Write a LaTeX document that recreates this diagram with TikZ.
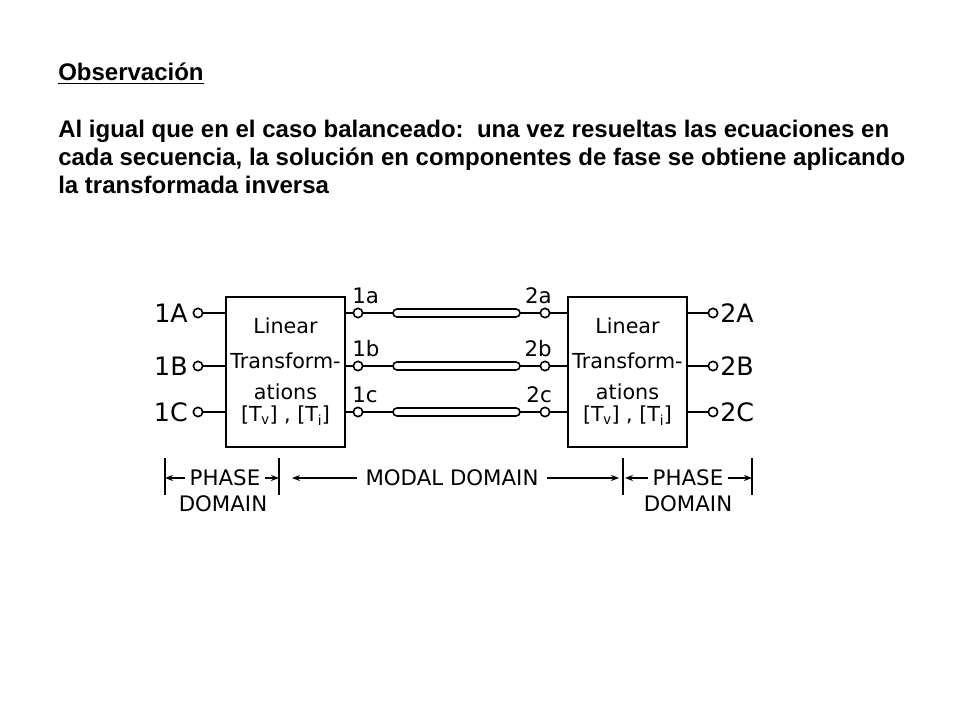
\documentclass[tikz,border=0pt]{standalone}
\usepackage{fontspec}
\setmainfont{Liberation Sans}
\newfontfamily\diag{DejaVu Sans}
\usetikzlibrary{arrows.meta}
\begin{document}
\begin{tikzpicture}[x=0.75pt,y=-0.75pt,
  box/.style={draw,line width=1.2pt},
  wire/.style={line width=1.2pt},
  term/.style={circle,draw,line width=1.2pt,inner sep=0pt,minimum size=7pt,fill=white},
  lab/.style={font=\diag\fontsize{16}{18}\selectfont,inner sep=0pt},
  tube/.style={draw,line width=1.2pt,rounded corners=3pt},
  dom/.style={line width=1pt,-{Stealth[length=6pt]}},
  txt/.style={font=\bfseries\fontsize{18}{21}\selectfont,anchor=north west,inner sep=0pt,align=left}]
\useasboundingbox (0,0) rectangle (960,720);
\node[txt] (obs) at (58,63) {\underline{Observación}};
\node[txt] (par) at (58,120) {Al igual que en el caso balanceado:\ \ una vez resueltas las ecuaciones en\\cada secuencia, la solución en componentes de fase se obtiene aplicando\\la transformada inversa};
% boxes
\draw[box] (226,297) rectangle (345,447);
\draw[box] (568,297) rectangle (687,447);
\node[lab,align=center,font=\diag\fontsize{15.5}{17}\selectfont] (lt) at (285.5,372) {Linear\\[9pt]Transform-\\[6pt]ations\\{}[T$_\mathrm{v}$] , [T$_\mathrm{i}$]};
\node[lab,align=center,font=\diag\fontsize{15.5}{17}\selectfont] (rt) at (627.5,372) {Linear\\[9pt]Transform-\\[6pt]ations\\{}[T$_\mathrm{v}$] , [T$_\mathrm{i}$]};
\foreach \y/\L/\l/\R/\r in {313/1A/1a/2A/2a,366/1B/1b/2B/2b,412/1C/1c/2C/2c}{
  \node[lab,anchor=east,font=\diag\fontsize{19}{20}\selectfont] (L\L) at (188,\y) {\L};
  \node[term] (tl\L) at (198,\y) {};
  \draw[wire] (tl\L) -- (226,\y);
  \node[term] (tm\l) at (358,\y) {};
  \draw[wire] (345,\y) -- (tm\l) -- (393,\y);
  \draw[tube] (393,\y-4) rectangle (520,\y+4);
  \node[term] (tn\r) at (545,\y) {};
  \draw[wire] (520,\y) -- (tn\r) -- (568,\y);
  \node[term] (tr\R) at (713,\y) {};
  \draw[wire] (687,\y) -- (tr\R);
  \node[lab,anchor=west,font=\diag\fontsize{19}{20}\selectfont] (R\R) at (720,\y) {\R};
  \node[lab,anchor=south west] (m\l) at (352,\y-9) {\l};
  \node[lab,anchor=south east] (n\r) at (552,\y-9) {\r};
}
% domains
\foreach \x in {165,279,623,752} \draw[line width=1pt] (\x,458) -- (\x,495);
\node[lab] (p1) at (225,478) {PHASE};
\node[lab] (d1) at (223,504) {DOMAIN};
\node[lab] (p2) at (688,478) {PHASE};
\node[lab] (d2) at (688,504) {DOMAIN};
\node[lab] (md) at (452,478) {MODAL DOMAIN};
\draw[dom] ([xshift=-3pt]p1.west) -- (165,478);
\draw[dom] ([xshift=3pt]p1.east) -- (279,478);
\draw[dom] ([xshift=-6pt]md.west) -- (292,478);
\draw[dom] ([xshift=6pt]md.east) -- (619,478);
\draw[dom] ([xshift=-3pt]p2.west) -- (625,478);
\draw[dom] ([xshift=3pt]p2.east) -- (752,478);
\end{tikzpicture}
\end{document}
